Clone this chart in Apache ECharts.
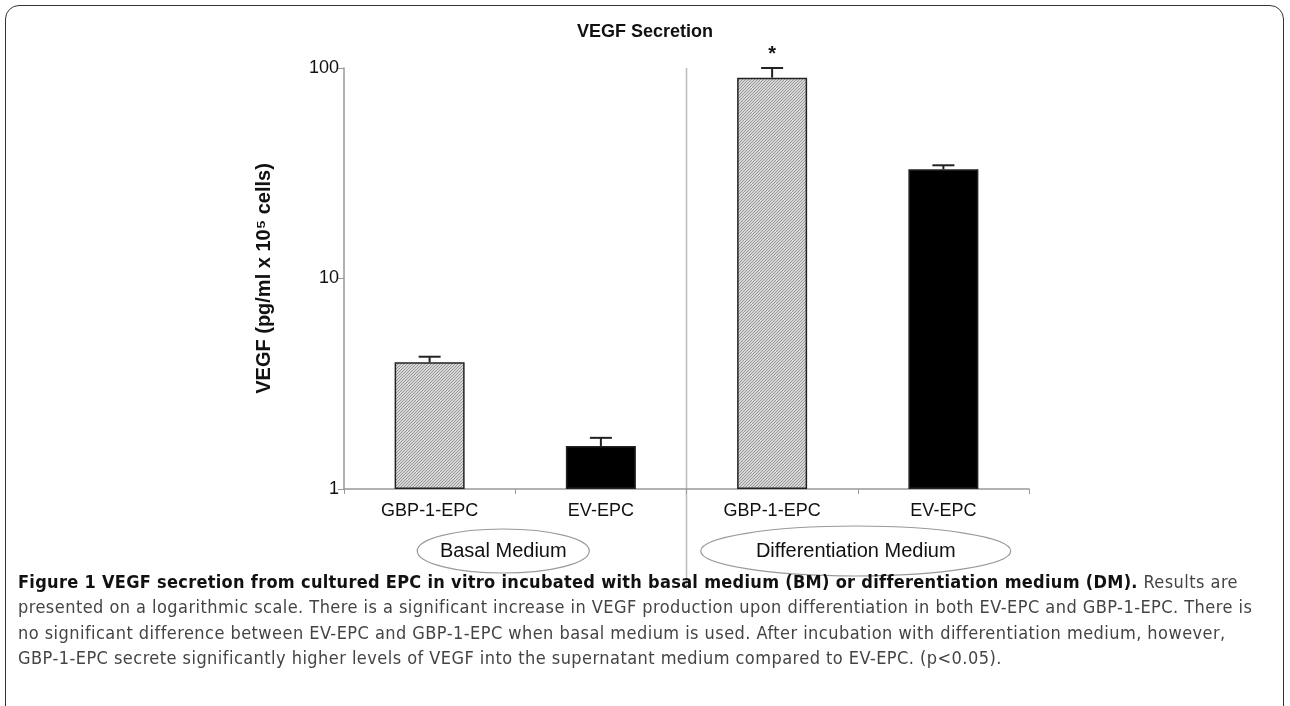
<!DOCTYPE html>
<html>
<head>
<meta charset="utf-8">
<script src="https://cdn.jsdelivr.net/npm/echarts@6/dist/echarts.min.js"></script>
<style>
  html, body { margin: 0; padding: 0; background: #fff; }
  #frame {
    position: absolute; left: 5px; top: 5px; width: 1279px; height: 720px;
    border: 1.5px solid #333; border-radius: 14px; box-sizing: border-box;
  }
  #chart { position: absolute; left: 0; top: 0; width: 1290px; height: 706px; }
  #caption {
    position: absolute; left: 18px; top: 569px; width: 1265px;
    font-family: "DejaVu Sans Condensed", "Liberation Sans Narrow", sans-serif;
    font-size: 18px; line-height: 25.3px; color: #444; letter-spacing: 0.45px;
    white-space: nowrap;
  }
  #caption b { color: #111; letter-spacing: 0.3px; }
</style>
</head>
<body>
<div id="frame"></div>
<div id="chart"></div>
<div id="caption">
  <b>Figure 1 VEGF secretion from cultured EPC in vitro incubated with basal medium (BM) or differentiation medium (DM).</b> Results are<br>
  presented on a logarithmic scale. There is a significant increase in VEGF production upon differentiation in both EV-EPC and GBP-1-EPC. There is<br>
  no significant difference between EV-EPC and GBP-1-EPC when basal medium is used. After incubation with differentiation medium, however,<br>
  GBP-1-EPC secrete significantly higher levels of VEGF into the supernatant medium compared to EV-EPC. (p&lt;0.05).
</div>
<script>
// values
const categories = ['GBP-1-EPC', 'EV-EPC', 'GBP-1-EPC', 'EV-EPC'];
const vegf = [4.0, 1.6, 90, 33];
const errorTop = [4.25, 1.75, 100, 34.5];
const significance = ['', '', '*', ''];
const groups = ['Basal Medium', 'Differentiation Medium'];

// fine hatched fill for the GBP-1 bars
const pc = document.createElement('canvas');
pc.width = 3; pc.height = 3;
const pctx = pc.getContext('2d');
pctx.fillStyle = '#d6d6d6';
pctx.fillRect(0, 0, 3, 3);
pctx.fillStyle = '#999999';
pctx.fillRect(0, 2, 1, 1);
pctx.fillRect(1, 1, 1, 1);
pctx.fillRect(2, 0, 1, 1);
const hatch = { image: pc, repeat: 'repeat' };

const myChart = echarts.init(document.getElementById('chart'));

const option = {
  animation: false,
  title: {
    text: 'VEGF Secretion',
    left: 'center',
    top: 18,
    textStyle: { fontFamily: 'Liberation Sans, Arial', fontSize: 18, fontWeight: 'bold', color: '#111' }
  },
  grid: { left: 344, right: 261, top: 68, bottom: 217 },
  xAxis: {
    type: 'category',
    data: categories,
    axisLine: { lineStyle: { color: '#999', width: 1.5 } },
    axisTick: { show: true, length: 5, lineStyle: { color: '#999' } },
    axisLabel: { fontFamily: 'Liberation Sans, Arial', fontSize: 18, color: '#111', margin: 13 }
  },
  yAxis: {
    type: 'log',
    logBase: 10,
    min: 1,
    max: 100,
    name: 'VEGF (pg/ml x 10\u2075 cells)',
    nameLocation: 'middle',
    nameGap: 70,
    nameRotate: 90,
    nameTextStyle: { fontFamily: 'Liberation Sans, Arial', fontSize: 20, fontWeight: 'bold', color: '#111' },
    axisLine: { show: true, lineStyle: { color: '#999', width: 1.5 } },
    axisTick: { show: true, length: 6, lineStyle: { color: '#999' } },
    minorTick: { show: false },
    splitLine: { show: false },
    axisLabel: { fontFamily: 'Liberation Sans, Arial', fontSize: 18, color: '#111', margin: 5 }
  },
  series: [
    {
      type: 'bar',
      barWidth: 70,
      data: vegf.map((v, i) => ({
        value: v,
        itemStyle: {
          color: categories[i].startsWith('GBP') ? hatch : '#000',
          borderColor: '#222',
          borderWidth: 1.5
        }
      }))
    },
    {
      type: 'custom',
      data: vegf.map((v, i) => [i, v, errorTop[i]]),
      z: 5,
      renderItem: function (params, api) {
        const i = api.value(0);
        const base = api.coord([i, api.value(1)]);
        const top = api.coord([i, api.value(2)]);
        const cap = 11;
        const children = [
          { type: 'line', shape: { x1: top[0], y1: base[1], x2: top[0], y2: top[1] }, style: { stroke: '#222', lineWidth: 2 } },
          { type: 'line', shape: { x1: top[0] - cap, y1: top[1], x2: top[0] + cap, y2: top[1] }, style: { stroke: '#222', lineWidth: 2 } }
        ];
        if (significance[i]) {
          children.push({
            type: 'text',
            style: {
              text: significance[i], x: top[0], y: top[1] - 4,
              align: 'center', verticalAlign: 'bottom',
              font: 'bold 20px Liberation Sans, Arial', fill: '#111'
            }
          });
        }
        return { type: 'group', children: children };
      }
    }
  ]
};

myChart.setOption(option);

// divider and group ellipses placed from the category scale
const px = categories.map((c, i) => myChart.convertToPixel({ xAxisIndex: 0 }, i));
const baseY = myChart.convertToPixel({ yAxisIndex: 0 }, 1);
const topY = myChart.convertToPixel({ yAxisIndex: 0 }, 100);
const divX = (px[1] + px[2]) / 2;
const ellipse = (cx, rx, ry, text) => ({
  type: 'group',
  children: [
    { type: 'ellipse', shape: { cx: cx, cy: baseY + 62, rx: rx, ry: ry }, style: { fill: 'none', stroke: '#999', lineWidth: 1.2 } },
    { type: 'text', style: { text: text, x: cx, y: baseY + 62, align: 'center', verticalAlign: 'middle', font: '20px Liberation Sans, Arial', fill: '#111' } }
  ]
});

myChart.setOption({
  graphic: [
    { type: 'line', shape: { x1: divX, y1: topY, x2: divX, y2: baseY + 100 }, style: { stroke: '#bbb', lineWidth: 1.5 } },
    ellipse((px[0] + px[1]) / 2 - 12, 86, 22, groups[0]),
    ellipse((px[2] + px[3]) / 2 - 2, 155, 25, groups[1])
  ]
});
</script>
</body>
</html>
